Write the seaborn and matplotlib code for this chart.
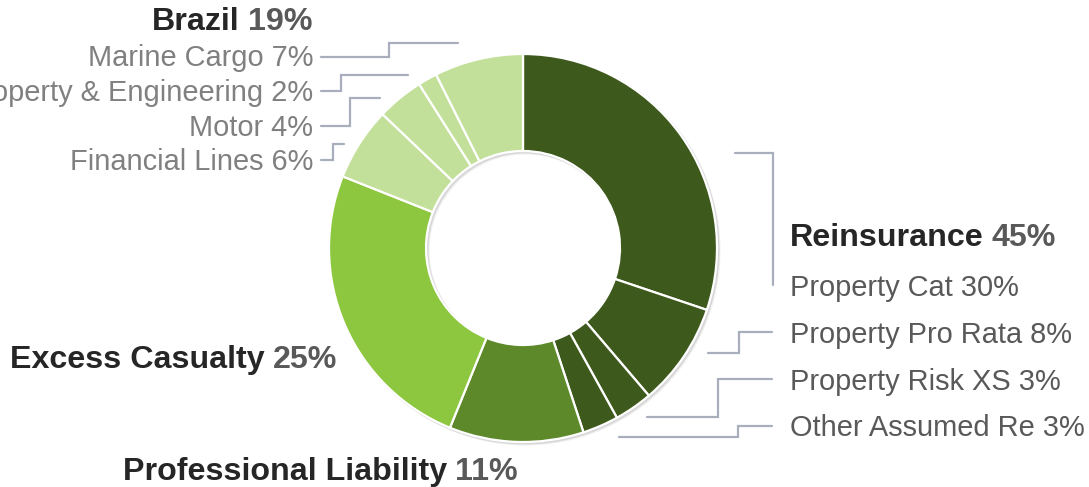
import matplotlib.pyplot as plt
import seaborn as sns

# Segment data (clockwise from 12 o'clock)
segments = ["Property Cat", "Property Pro Rata", "Property Risk XS", "Other Assumed Re",
            "Professional Liability", "Excess Casualty",
            "Financial Lines", "Motor", "Property & Engineering", "Marine Cargo"]
shares = [30.2, 8.6, 3.2, 3.0, 11.2, 24.9, 6.1, 3.9, 1.6, 7.4]
label_pct = [30, 8, 3, 3, 11, 25, 6, 4, 2, 7]
segment_group = ["Reinsurance"] * 4 + ["Professional Liability", "Excess Casualty"] + ["Brazil"] * 4

group_names = ["Reinsurance", "Professional Liability", "Excess Casualty", "Brazil"]
group_pct = [45, 11, 25, 19]

# Styling / layout
group_colors = {"Reinsurance": "#3E591C", "Professional Liability": "#5E892B",
                "Excess Casualty": "#8DC63F", "Brazil": "#C2E099"}
W, H = 1089, 487
center = (523, 248)
radius = 194
ring = 97
line_color = "#A9AEBC"
head_color = "#262626"
pct_color = "#595959"

sns.set_theme(style="white")
plt.rcParams["font.family"] = ["Liberation Sans", "DejaVu Sans"]

fig = plt.figure(figsize=(W / 100, H / 100), dpi=100)
ax = fig.add_axes([0, 0, 1, 1])

# soft shadow behind the ring
for off, a in [(2.5, 0.06), (1.5, 0.10)]:
    ax.pie([1], colors=["black"], radius=radius + 1,
           center=(center[0] + off, center[1] + off),
           wedgeprops=dict(width=ring + 2, linewidth=0, alpha=a))

colors = [group_colors[g] for g in segment_group]
ax.pie(shares, colors=colors, radius=radius, center=center,
       startangle=-90, counterclock=True,
       wedgeprops=dict(width=ring, edgecolor="white", linewidth=1.6))

ax.set_xlim(0, W)
ax.set_ylim(H, 0)
ax.set_aspect("auto")
ax.axis("off")

renderer = fig.canvas.get_renderer()
reg = 20.9
bold = 23.2


def heading(x, y, name, pct, align="left"):
    gap = 8
    if align == "left":
        t = ax.text(x, y, name, fontsize=bold, fontweight="bold", color=head_color,
                    ha="left", va="baseline")
        w = t.get_window_extent(renderer).width
        ax.text(x + w + gap, y, f"{pct}%", fontsize=bold, fontweight="bold",
                color=pct_color, ha="left", va="baseline")
    else:
        t = ax.text(x, y, f"{pct}%", fontsize=bold, fontweight="bold", color=pct_color,
                    ha="right", va="baseline")
        w = t.get_window_extent(renderer).width
        ax.text(x - w - gap, y, name, fontsize=bold, fontweight="bold",
                color=head_color, ha="right", va="baseline")


# group headings
heading(790, 246, group_names[0], group_pct[0], "left")
heading(123, 480, group_names[1], group_pct[1], "left")
heading(10, 368, group_names[2], group_pct[2], "left")
heading(312, 30.5, group_names[3], group_pct[3], "right")

# segment labels: (index, x, baseline, align, color)
label_pos = [
    (0, 790, 296.5, "left", pct_color),
    (1, 790, 343, "left", pct_color),
    (2, 790, 390, "left", pct_color),
    (3, 790, 436, "left", pct_color),
    (9, 313, 66.5, "right", "#808080"),
    (8, 313, 101, "right", "#808080"),
    (7, 313, 136, "right", "#808080"),
    (6, 313, 170.5, "right", "#808080"),
]
for i, x, y, ha, c in label_pos:
    ax.text(x, y, f"{segments[i]} {label_pct[i]}%", fontsize=reg, color=c,
            ha=ha, va="baseline")

# leader lines
leaders = [
    [(735, 153), (773, 153), (773, 285)],
    [(772, 332), (739, 332), (739, 353), (708, 353)],
    [(772, 379), (718, 379), (718, 417), (647, 417)],
    [(772, 426), (738, 426), (738, 437), (619, 437)],
    [(321, 57), (389, 57), (389, 43), (458, 43)],
    [(321, 91), (341, 91), (341, 75), (408, 75)],
    [(321, 126), (350, 126), (350, 98), (380, 98)],
    [(321, 160), (333, 160), (333, 144), (344, 144)],
]
for path in leaders:
    xs, ys = zip(*path)
    ax.plot(xs, ys, color=line_color, linewidth=1.6, solid_joinstyle="miter")

fig.savefig("out.png", dpi=100)
